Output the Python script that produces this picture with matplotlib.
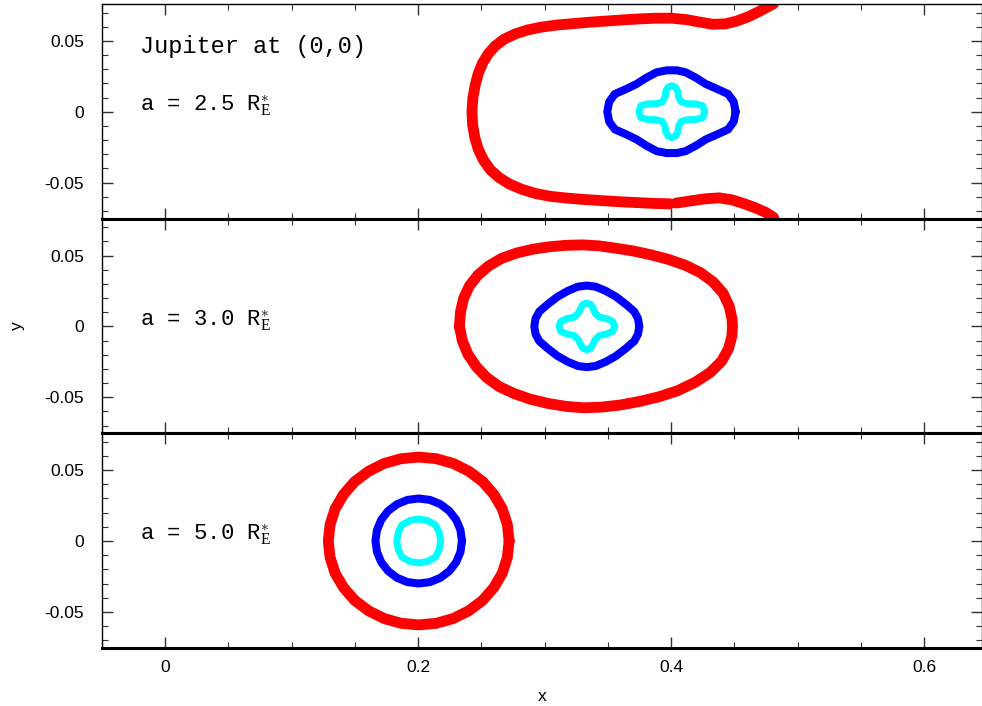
#Importing numpy and pyplot
import numpy as np
import matplotlib.pyplot as plt

# contour points (x, y)
# panel 1 : a = 2.5 RE*, centre near x = 0.4
red1_x = [0.481, 0.476, 0.469, 0.461, 0.452, 0.443, 0.433, 0.423, 0.412, 0.400, 0.388, 0.375, 0.362, 0.349, 0.336,
          0.323, 0.310, 0.298, 0.287, 0.277, 0.268, 0.261, 0.2555, 0.251, 0.2475, 0.245, 0.2432, 0.2425,
          0.2430, 0.2447, 0.2475, 0.2515, 0.2570, 0.2640, 0.2720, 0.2820, 0.2930, 0.3050, 0.3180, 0.3320,
          0.3460, 0.3600, 0.3740, 0.3880, 0.3990, np.nan, 0.4040, 0.4150, 0.4270, 0.4380, 0.4480, 0.4580, 0.4670, 0.4750, 0.4810]
red1_y = [0.0762, 0.0738, 0.0705, 0.0670, 0.0640, 0.0620, 0.0617, 0.0632, 0.0650, 0.0660, 0.0660, 0.0655, 0.0648, 0.0640, 0.0632,
          0.0622, 0.0612, 0.0598, 0.0578, 0.0550, 0.0512, 0.0465, 0.0410, 0.0345, 0.0270, 0.0185, 0.0095, 0.0,
          -0.0090, -0.0180, -0.0265, -0.0340, -0.0410, -0.0465, -0.0510, -0.0548, -0.0578, -0.0598, -0.0610, -0.0620,
          -0.0628, -0.0636, -0.0642, -0.0648, -0.0650, np.nan, -0.0645, -0.0630, -0.0615, -0.0608, -0.0622, -0.0650, -0.0680, -0.0712, -0.0746]

blue1_x = [0.451, 0.4495, 0.445, 0.4365, 0.4275, 0.4195, 0.4115, 0.4045, 0.3965, 0.3885, 0.3805, 0.3725, 0.3645, 0.3555, 0.351, 0.3495,
           0.351, 0.3555, 0.3645, 0.3725, 0.3805, 0.3885, 0.3965, 0.4045, 0.4115, 0.4195, 0.4275, 0.4365, 0.445, 0.4495, 0.451]
blue1_y = [0.0, 0.0070, 0.0125, 0.0160, 0.0195, 0.0240, 0.0278, 0.0292, 0.0292, 0.0278, 0.0240, 0.0195, 0.0160, 0.0125, 0.0070, 0.0,
           -0.0070, -0.0125, -0.0160, -0.0195, -0.0240, -0.0278, -0.0292, -0.0292, -0.0278, -0.0240, -0.0195, -0.0160, -0.0125, -0.0070, 0.0]

cyan1_x = [0.4265, 0.425, 0.4195, 0.4125, 0.408, 0.406, 0.4053, 0.4035, 0.4005, 0.3975, 0.3957, 0.395, 0.393, 0.3885, 0.3815, 0.376, 0.3745,
           0.376, 0.3815, 0.3885, 0.393, 0.395, 0.3957, 0.3975, 0.4005, 0.4035, 0.4053, 0.406, 0.408, 0.4125, 0.4195, 0.425, 0.4265]
cyan1_y = [0.0, 0.0042, 0.0055, 0.0057, 0.0068, 0.0100, 0.0140, 0.0172, 0.0183, 0.0172, 0.0140, 0.0100, 0.0068, 0.0057, 0.0055, 0.0042, 0.0,
           -0.0042, -0.0055, -0.0057, -0.0068, -0.0100, -0.0140, -0.0172, -0.0183, -0.0172, -0.0140, -0.0100, -0.0068, -0.0057, -0.0055, -0.0042, 0.0]

# panel 2 : a = 3.0 RE*, centre near x = 1/3
red2_x = [0.2326, 0.2335, 0.2360, 0.2405, 0.2470, 0.2555, 0.2660, 0.2780, 0.2910, 0.3040, 0.3170, 0.3300, 0.3430, 0.3560,
          0.3700, 0.3840, 0.3980, 0.4110, 0.4230, 0.4330, 0.4410, 0.4460, 0.4482, 0.4485,
          0.4480, 0.4455, 0.4400, 0.4310, 0.4190, 0.4050, 0.3900, 0.3750, 0.3600, 0.3450, 0.3310, 0.3170,
          0.3030, 0.2890, 0.2760, 0.2640, 0.2540, 0.2460, 0.2395, 0.2350, 0.2326]
red2_y = [0.0, 0.0105, 0.0200, 0.0285, 0.0360, 0.0425, 0.0480, 0.0518, 0.0545, 0.0562, 0.0572, 0.0575, 0.0568, 0.0552,
          0.0532, 0.0505, 0.0472, 0.0432, 0.0380, 0.0315, 0.0235, 0.0140, 0.0050, 0.0,
          -0.0070, -0.0155, -0.0245, -0.0325, -0.0395, -0.0455, -0.0498, -0.0530, -0.0555, -0.0570, -0.0575, -0.0565,
          -0.0545, -0.0515, -0.0475, -0.0425, -0.0360, -0.0285, -0.0200, -0.0105, 0.0]

blue2_x = [0.3748, 0.3738, 0.3708, 0.3643, 0.3563, 0.3483, 0.3403, 0.3333, 0.3263, 0.3183, 0.3103, 0.3023, 0.2958, 0.2928, 0.2918,
           0.2928, 0.2958, 0.3023, 0.3103, 0.3183, 0.3263, 0.3333, 0.3403, 0.3483, 0.3563, 0.3643, 0.3708, 0.3738, 0.3748]
blue2_y = [0.0, 0.0055, 0.0105, 0.0155, 0.0210, 0.0250, 0.0280, 0.0288, 0.0280, 0.0250, 0.0210, 0.0155, 0.0105, 0.0055, 0.0,
           -0.0055, -0.0105, -0.0155, -0.0210, -0.0250, -0.0280, -0.0288, -0.0280, -0.0250, -0.0210, -0.0155, -0.0105, -0.0055, 0.0]

cyan2_x = [0.3553, 0.3538, 0.3493, 0.3433, 0.3398, 0.3381, 0.3363, 0.3333, 0.3303, 0.3285, 0.3268, 0.3233, 0.3173, 0.3128, 0.3113,
           0.3128, 0.3173, 0.3233, 0.3268, 0.3285, 0.3303, 0.3333, 0.3363, 0.3381, 0.3398, 0.3433, 0.3493, 0.3538, 0.3553]
cyan2_y = [0.0, 0.0035, 0.0053, 0.0065, 0.0095, 0.0130, 0.0155, 0.0165, 0.0155, 0.0130, 0.0095, 0.0065, 0.0053, 0.0035, 0.0,
           -0.0035, -0.0053, -0.0065, -0.0095, -0.0130, -0.0155, -0.0165, -0.0155, -0.0130, -0.0095, -0.0065, -0.0053, -0.0035, 0.0]

# panel 3 : a = 5.0 RE*, centre near x = 0.2
red3_x = [0.2719, 0.2705, 0.2665, 0.2598, 0.2510, 0.2401, 0.2278, 0.2143, 0.2004, 0.1865, 0.1730, 0.1607, 0.1498, 0.1410, 0.1343, 0.1303, 0.1289,
          0.1303, 0.1343, 0.1410, 0.1498, 0.1607, 0.1730, 0.1865, 0.2004, 0.2143, 0.2278, 0.2401, 0.2510, 0.2598, 0.2665, 0.2705, 0.2719]
red3_y = [0.0, 0.0115, 0.0227, 0.0329, 0.0419, 0.0492, 0.0547, 0.0581, 0.0592, 0.0581, 0.0547, 0.0492, 0.0419, 0.0329, 0.0227, 0.0115, 0.0,
          -0.0115, -0.0227, -0.0329, -0.0419, -0.0492, -0.0547, -0.0581, -0.0592, -0.0581, -0.0547, -0.0492, -0.0419, -0.0329, -0.0227, -0.0115, 0.0]

blue3_x = [0.2346, 0.2334, 0.2300, 0.2246, 0.2175, 0.2093, 0.2004, 0.1915, 0.1833, 0.1762, 0.1708, 0.1674, 0.1662,
           0.1674, 0.1708, 0.1762, 0.1833, 0.1915, 0.2004, 0.2093, 0.2175, 0.2246, 0.2300, 0.2334, 0.2346]
blue3_y = [0.0, 0.0078, 0.0150, 0.0212, 0.0260, 0.0290, 0.0300, 0.0290, 0.0260, 0.0212, 0.0150, 0.0078, 0.0,
           -0.0078, -0.0150, -0.0212, -0.0260, -0.0290, -0.0300, -0.0290, -0.0260, -0.0212, -0.0150, -0.0078, 0.0]

cyan3_x = [0.2178, 0.2165, 0.2137, 0.2072, 0.2004, 0.1936, 0.1871, 0.1843, 0.1830,
           0.1843, 0.1871, 0.1936, 0.2004, 0.2072, 0.2137, 0.2165, 0.2178]
cyan3_y = [0.0, 0.0062, 0.0113, 0.0145, 0.0155, 0.0145, 0.0113, 0.0062, 0.0,
           -0.0062, -0.0113, -0.0145, -0.0155, -0.0145, -0.0113, -0.0062, 0.0]

labels = ['a = 2.5 R$_{\\rm E}^{\\ast}$', 'a = 3.0 R$_{\\rm E}^{\\ast}$', 'a = 5.0 R$_{\\rm E}^{\\ast}$']
xticks = [0, 0.2, 0.4, 0.6]
xticklabels = ['0', '0.2', '0.4', '0.6']
yticks = [-0.05, 0, 0.05]
yticklabels = ['-0.05', '0', '0.05']

plt.rcParams['font.family'] = ['Liberation Sans', 'DejaVu Sans']
plt.rcParams['mathtext.fontset'] = 'custom'
plt.rcParams['mathtext.rm'] = 'Liberation Serif'
plt.rcParams['mathtext.it'] = 'Liberation Serif'

fig = plt.figure(figsize=(9.82, 7.06), dpi=100)
gs = fig.add_gridspec(3, 1, left=0.1039, right=1.0, top=0.9943, bottom=0.0822, hspace=0)
axs = [fig.add_subplot(gs[i]) for i in range(3)]

curves = [[(red1_x, red1_y), (blue1_x, blue1_y), (cyan1_x, cyan1_y)],
          [(red2_x, red2_y), (blue2_x, blue2_y), (cyan2_x, cyan2_y)],
          [(red3_x, red3_y), (blue3_x, blue3_y), (cyan3_x, cyan3_y)]]
colors = ['#ff0000', '#0000ff', '#00ffff']
widths = [7.8, 5.8, 5.0]

for i, ax in enumerate(axs):
	for (cx, cy), c, w in zip(curves[i], colors, widths):
		ax.plot(cx, cy, color=c, lw=w, solid_joinstyle='round', solid_capstyle='round')
	ax.set_xlim(-0.0498, 0.6458)
	ax.set_ylim(-0.0755, 0.0760)
	ax.set_xticks(xticks)
	ax.set_xticklabels(xticklabels)
	ax.set_xticks(np.arange(-0.05, 0.65, 0.05), minor=True)
	ax.set_yticks(yticks)
	ax.set_yticklabels(yticklabels)
	ax.set_yticks(np.arange(-0.07, 0.075, 0.01), minor=True)
	ax.tick_params(which='both', direction='in', top=True, right=True, labelsize=12.5, color='#333333')
	ax.tick_params(which='major', length=8, width=1.0)
	ax.tick_params(which='minor', length=4.5, width=0.8)
	ax.tick_params(axis='y', pad=13)
	ax.tick_params(axis='x', pad=9)
	for s in ['left', 'right', 'top']:
		ax.spines[s].set_linewidth(1.0)
	ax.spines['bottom'].set_linewidth(2.2)
	if i > 0:
		ax.spines['top'].set_linewidth(2.2)
	if i < 2:
		ax.tick_params(axis='x', labelbottom=False)
	ax.text(-0.0198, 0.004, labels[i], family='Liberation Mono', fontsize=16, va='center', ha='left')

axs[0].text(-0.0198, 0.0458, 'Jupiter at (0,0)', family='Liberation Mono', fontsize=17, va='center', ha='left')
axs[1].set_ylabel('y', fontsize=12.5, labelpad=14)
axs[2].set_xlabel('x', fontsize=12.5, labelpad=10)

plt.savefig('out.png', dpi=100)
